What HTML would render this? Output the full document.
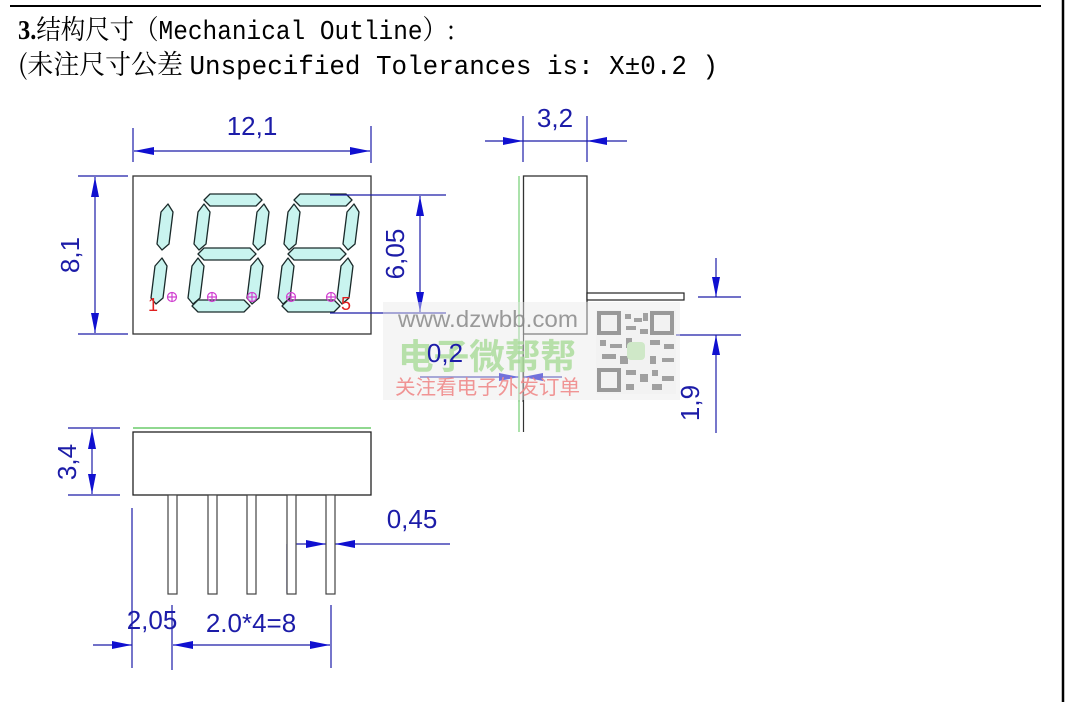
<!DOCTYPE html>
<html><head><meta charset="utf-8"><style>
html,body{margin:0;padding:0;background:#fff;}
body{width:1065px;height:702px;overflow:hidden;position:relative;}
svg{position:absolute;left:0;top:0;}
.dim{font-family:"Liberation Sans",sans-serif;font-size:26px;fill:#1c1ca8;}
</style></head><body>
<svg width="1065" height="702" viewBox="0 0 1065 702" xmlns="http://www.w3.org/2000/svg">
<defs>
<marker id="ar" viewBox="0 0 20 8" refX="20" refY="4" markerWidth="20" markerHeight="8" markerUnits="userSpaceOnUse" orient="auto-start-reverse"><path d="M0,0 L20,4 L0,8 Z" fill="#1010d0"/></marker>
<g id="d8" fill="#c9f4ef" stroke="#1a2a2a" stroke-width="1.3" stroke-linejoin="round">
<polygon points="8,8 14,2 60,2 66,8 60,14 14,14"/>
<polygon points="2,62 8,56 54,56 60,62 54,68 8,68"/>
<polygon points="-4,114 2,108 48,108 54,114 48,120 2,120"/>
<polygon points="8,12 14,20 10,52 3,58 -2,52 2,20"/>
<polygon points="2,66 8,74 4,106 -3,112 -8,106 -4,74"/>
<polygon points="68,12 73,20 69,52 62,58 57,52 61,20"/>
<polygon points="62,66 67,74 63,106 56,112 51,106 55,74"/>
</g>
<g id="d1" fill="#c9f4ef" stroke="#1a2a2a" stroke-width="1.3" stroke-linejoin="round">
<polygon points="68,12 73,20 69,52 62,58 57,52 61,20"/>
<polygon points="62,66 67,74 63,106 56,112 51,106 55,74"/>
</g>
</defs>

<line x1="10" y1="6" x2="1041" y2="6" stroke="#000" stroke-width="2"/>
<line x1="1063" y1="0" x2="1063" y2="702" stroke="#000" stroke-width="2.5"/>

<text x="18" y="39" textLength="437" lengthAdjust="spacingAndGlyphs" font-family="'Liberation Mono','Noto Serif CJK SC',monospace" font-size="27" fill="#000"><tspan font-family="'Liberation Serif',serif" font-weight="bold">3.</tspan><tspan font-family="'Noto Serif CJK SC',serif">结构尺寸（</tspan>Mechanical Outline<tspan font-family="'Noto Serif CJK SC',serif">）:</tspan></text>
<text x="18" y="74" textLength="700" lengthAdjust="spacingAndGlyphs" font-family="'Liberation Mono','Noto Serif CJK SC',monospace" font-size="27" fill="#000"><tspan font-family="'Noto Serif CJK SC',serif">(未注尺寸公差 </tspan>Unspecified Tolerances is: X±0.2  )</text>

<rect x="133" y="176" width="238" height="158" fill="#fff" stroke="#333" stroke-width="1.3"/>
<use href="#d1" x="100" y="192"/>
<use href="#d8" x="196" y="192"/>
<use href="#d8" x="286" y="192"/>
<g stroke="#d040d0" fill="none" stroke-width="1.2">
<circle cx="172" cy="297" r="4.5"/><path d="M167.5 297h9M172 292.5v9"/>
<circle cx="212" cy="297" r="4.5"/><path d="M207.5 297h9M212 292.5v9"/>
<circle cx="252" cy="297" r="4.5"/><path d="M247.5 297h9M252 292.5v9"/>
<circle cx="291" cy="297" r="4.5"/><path d="M286.5 297h9M291 292.5v9"/>
<circle cx="331" cy="297" r="4.5"/><path d="M326.5 297h9M331 292.5v9"/>
</g>
<text x="148" y="311" font-family="'Liberation Sans',sans-serif" font-size="18" fill="#e02020">1</text>
<text x="341" y="310" font-family="'Liberation Sans',sans-serif" font-size="18" fill="#e02020">5</text>

<g stroke="#1c1ca8" stroke-width="1.2" fill="none">
<line x1="133" y1="128" x2="133" y2="162"/><line x1="371" y1="126" x2="371" y2="163"/>
<line x1="134" y1="151" x2="370" y2="151" marker-start="url(#ar)" marker-end="url(#ar)"/>
<line x1="78" y1="176" x2="128" y2="176"/><line x1="78" y1="334" x2="128" y2="334"/>
<line x1="95" y1="177" x2="95" y2="333" marker-start="url(#ar)" marker-end="url(#ar)"/>
<line x1="330" y1="195" x2="446" y2="195"/><line x1="330" y1="313" x2="446" y2="313"/>
<line x1="420" y1="196" x2="420" y2="312" marker-start="url(#ar)" marker-end="url(#ar)"/>
<line x1="523" y1="116" x2="523" y2="162"/><line x1="587" y1="116" x2="587" y2="162"/>
<line x1="485" y1="141" x2="523" y2="141" marker-end="url(#ar)"/>
<line x1="627" y1="141" x2="587" y2="141" marker-end="url(#ar)"/>
<line x1="523" y1="141" x2="587" y2="141"/>
<line x1="698" y1="297" x2="741" y2="297"/><line x1="600" y1="335" x2="741" y2="335"/>
<line x1="716" y1="258" x2="716" y2="297" marker-end="url(#ar)"/>
<line x1="716" y1="433" x2="716" y2="335" marker-end="url(#ar)"/>
<line x1="420" y1="377" x2="519" y2="377" marker-end="url(#ar)"/>
<line x1="562" y1="377" x2="523" y2="377" marker-end="url(#ar)"/>
<line x1="519" y1="345" x2="519" y2="402" stroke="#555"/><line x1="523" y1="345" x2="523" y2="402" stroke="#555"/>
<line x1="68" y1="428" x2="120" y2="428"/><line x1="68" y1="495" x2="120" y2="495"/>
<line x1="92" y1="429" x2="92" y2="494" marker-start="url(#ar)" marker-end="url(#ar)"/>
<line x1="287" y1="544" x2="287" y2="593"/>
<line x1="287" y1="544" x2="326" y2="544" marker-end="url(#ar)"/>
<line x1="450" y1="544" x2="335" y2="544" marker-end="url(#ar)"/>
<line x1="132" y1="508" x2="132" y2="668"/><line x1="172" y1="605" x2="172" y2="670"/><line x1="331" y1="605" x2="331" y2="668"/>
<line x1="93" y1="645" x2="132" y2="645" marker-end="url(#ar)"/>
<line x1="173" y1="645" x2="330" y2="645" marker-start="url(#ar)" marker-end="url(#ar)"/>
</g>

<rect x="523.5" y="176" width="63.5" height="158" fill="#fff" stroke="#333" stroke-width="1.3"/>
<line x1="523.5" y1="334" x2="523.5" y2="432" stroke="#333" stroke-width="1.2"/>
<line x1="519" y1="176" x2="519" y2="432" stroke="#8fd88f" stroke-width="1.5"/>
<rect x="587" y="293" width="97" height="7" fill="#fff" stroke="#222" stroke-width="1.2"/>

<line x1="133" y1="428" x2="371" y2="428" stroke="#6ccc6c" stroke-width="1.5"/>
<rect x="133" y="432" width="238" height="63" fill="#fff" stroke="#222" stroke-width="1.3"/>
<g fill="#fff" stroke="#444" stroke-width="1.2">
<rect x="168" y="495" width="9" height="99"/><rect x="208" y="495" width="9" height="99"/>
<rect x="247" y="495" width="9" height="99"/><rect x="287" y="495" width="9" height="99"/>
<rect x="326" y="495" width="9" height="99"/>
</g>

<text class="dim" x="252" y="135" text-anchor="middle">12,1</text>
<text class="dim" x="79" y="255" text-anchor="middle" transform="rotate(-90 79 255)">8,1</text>
<text class="dim" x="404" y="254" text-anchor="middle" transform="rotate(-90 404 254)">6,05</text>
<text class="dim" x="555" y="127" text-anchor="middle">3,2</text>
<text class="dim" x="699" y="403" text-anchor="middle" transform="rotate(-90 699 403)">1,9</text>
<text class="dim" x="76" y="462" text-anchor="middle" transform="rotate(-90 76 462)">3,4</text>
<text class="dim" x="412" y="528" text-anchor="middle">0,45</text>
<text class="dim" x="152" y="629" text-anchor="middle">2,05</text>
<text class="dim" x="251" y="632" text-anchor="middle">2.0*4=8</text>

<rect x="383" y="302" width="297" height="98" fill="#e8e8e8" opacity="0.45"/>
<text x="398" y="327" textLength="180" lengthAdjust="spacingAndGlyphs" font-family="'Liberation Sans',sans-serif" font-size="23" fill="#8a8a8a" opacity="0.85">www.dzwbb.com</text>
<text x="398" y="369" textLength="178" lengthAdjust="spacingAndGlyphs" font-family="'Liberation Sans','Noto Sans CJK SC',sans-serif" font-size="35" font-weight="bold" fill="#a8dc98" opacity="0.8">电子微帮帮</text>
<text class="dim" x="445" y="362" text-anchor="middle">0,2</text>
<text x="395" y="394" textLength="185" lengthAdjust="spacingAndGlyphs" font-family="'Liberation Sans','Noto Sans CJK SC',sans-serif" font-size="20" fill="#f08a8a" opacity="0.9">关注看电子外发订单</text>
<g fill="#a0a0a0">
<rect x="596" y="310" width="80" height="84" fill="#f2f2f2"/>
<rect x="599" y="313" width="20" height="20" fill="none" stroke="#999" stroke-width="4"/>
<rect x="652" y="313" width="20" height="20" fill="none" stroke="#999" stroke-width="4"/>
<rect x="599" y="370" width="20" height="20" fill="none" stroke="#999" stroke-width="4"/>
<rect x="625" y="314" width="6" height="5"/><rect x="634" y="318" width="8" height="4"/><rect x="643" y="313" width="5" height="8"/>
<rect x="626" y="326" width="10" height="4"/><rect x="640" y="329" width="8" height="5"/>
<rect x="600" y="340" width="6" height="6"/><rect x="610" y="344" width="12" height="4"/><rect x="626" y="338" width="6" height="10"/>
<rect x="650" y="340" width="10" height="5"/><rect x="664" y="344" width="10" height="5"/>
<rect x="602" y="354" width="14" height="5"/><rect x="620" y="356" width="8" height="8"/><rect x="650" y="356" width="6" height="8"/><rect x="662" y="358" width="12" height="4"/>
<rect x="626" y="370" width="10" height="5"/><rect x="640" y="374" width="8" height="8"/><rect x="652" y="370" width="6" height="6"/><rect x="662" y="376" width="12" height="5"/>
<rect x="626" y="384" width="8" height="6"/><rect x="652" y="384" width="10" height="6"/>
<rect x="627" y="342" width="18" height="18" rx="4" fill="#cfe8c8"/>
</g>
</svg>
</body></html>
